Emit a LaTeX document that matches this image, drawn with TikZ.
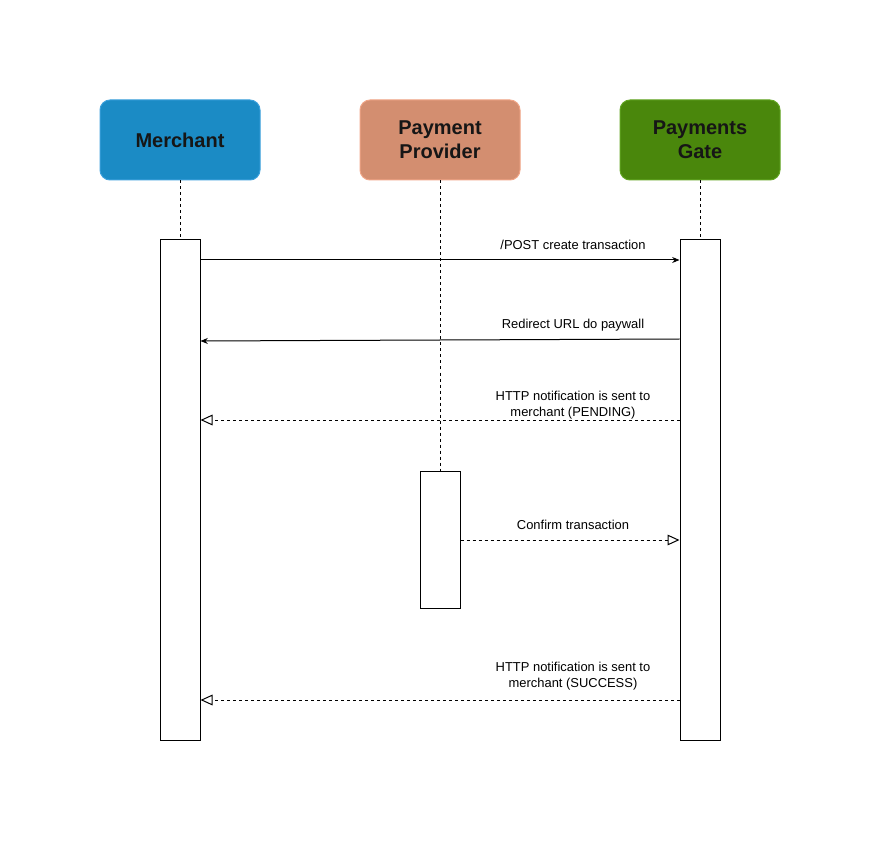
\documentclass[tikz,border=0pt]{standalone}
\usepackage{fontspec}
\setmainfont{Liberation Sans}
\usetikzlibrary{arrows.meta, positioning}
\definecolor{xBlue}{RGB}{27,139,197}
\definecolor{xBlueLine}{RGB}{60,160,220}
\definecolor{xSalmon}{RGB}{211,142,112}
\definecolor{xSalmonLine}{RGB}{240,165,135}
\definecolor{xGreen}{RGB}{74,135,12}
\definecolor{xGreenLine}{RGB}{98,165,35}
\definecolor{xInk}{RGB}{22,22,22}
\tikzset{
  actor/.style={rounded corners=7.5pt, align=center, font=\fontsize{15}{18}\selectfont\bfseries,
                text=xInk, line width=0.75pt, minimum width=120pt, minimum height=60pt, inner sep=0pt},
  activ/.style={draw, fill=white, line width=0.75pt, minimum width=30pt, inner sep=0pt},
  lifeline/.style={line width=0.75pt, dash pattern=on 2.25pt off 2.25pt},
  call/.style={-{Stealth[length=5.5pt, width=4.5pt]}, line width=0.75pt},
  reply/.style={-{Triangle[open, length=9pt, width=8pt, fill=white]}, line width=0.75pt,
                dash pattern=on 2.25pt off 2.25pt},
  msglabel/.style={font=\fontsize{9.7}{12}\selectfont, align=center, inner sep=0pt},
}
\begin{document}
\begin{tikzpicture}[x=0.75pt, y=-0.75pt]
  \useasboundingbox (0,0) rectangle (881,841);
  % heads of the three lifelines
  \node[actor, fill=xBlue, draw=xBlueLine]     (merchant) at (180,140) {Merchant};
  \node[actor, fill=xSalmon, draw=xSalmonLine] (provider) at (440,140) {Payment\\Provider};
  \node[actor, fill=xGreen, draw=xGreenLine]   (gate)     at (700,140) {Payments\\Gate};
  % activation bars
  \node[activ, minimum height=375pt]    (mAct) at (180,490) {};
  \node[activ, minimum height=102.75pt] (pAct) at (440,539.5) {};
  \node[activ, minimum height=375pt]    (gAct) at (700,490) {};
  \draw[lifeline] (merchant) -- (mAct);
  \draw[lifeline] (provider) -- (pAct);
  \draw[lifeline] (gate) -- (gAct);
  % messages
  \draw[call]  (mAct.east |- 0,260) -- (gAct.west |- 0,260);
  \node[msglabel] (m1) at (573,245) {/POST create transaction};
  \draw[call]  (gAct.west |- 0,339) -- (mAct.east |- 0,341);
  \node[msglabel] (m2) at (573,325) {Redirect URL do paywall};
  \draw[reply] (gAct.west |- 0,420) -- (mAct.east |- 0,420);
  \node[msglabel] (m3) at (573,405) {HTTP notification is sent to\\merchant (PENDING)};
  \draw[reply] (pAct.east |- 0,540) -- (gAct.west |- 0,540);
  \node[msglabel] (m4) at (573,525) {Confirm transaction};
  \draw[reply] (gAct.west |- 0,700) -- (mAct.east |- 0,700);
  \node[msglabel] (m5) at (573,676) {HTTP notification is sent to\\merchant (SUCCESS)};
\end{tikzpicture}
\end{document}
